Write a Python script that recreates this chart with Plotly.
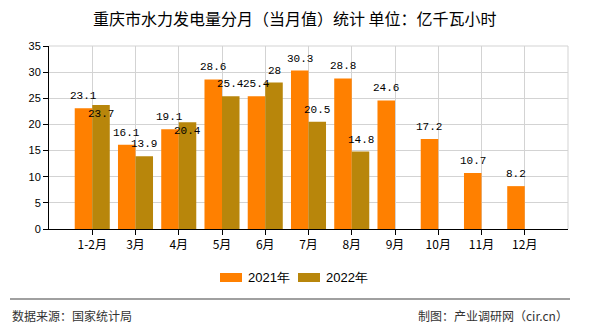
import plotly.graph_objects as go

categories = ["1-2月", "3月", "4月", "5月", "6月", "7月", "8月", "9月", "10月", "11月", "12月"]
values_2021 = [23.1, 16.1, 19.1, 28.6, 25.4, 30.3, 28.8, 24.6, 17.2, 10.7, 8.2]
values_2022 = [23.7, 13.9, 20.4, 25.4, 28, 20.5, 14.8, None, None, None, None]
yticks = [0, 5, 10, 15, 20, 25, 30, 35]
series = [("2021年", values_2021, "#FF8000"), ("2022年", values_2022, "#B8860B")]

cjk = "Noto Sans CJK SC"
mono = "Liberation Mono"

# plot area in pixels
L, R, T, B = 49, 568, 46, 229
W, H = R - L, B - T
def px(x):
    return (x - L) / W
def py(y):
    return (B - y) / H

bargap = 0.19
unit = W / 12.0
barw = unit * (1 - bargap) / 2

def fmt(v):
    return "%g" % v

fig = go.Figure()
for name, vals, color in series:
    fig.add_trace(go.Bar(
        x=categories, y=vals, name=name,
        marker=dict(color=color, line=dict(width=0)),
        showlegend=False,
    ))

# data labels as annotations (2022 label drops inside its bar when it would collide with the 2021 label)
for i, (name, vals, color) in enumerate(series):
    shift = (i - 0.5) * barw
    for j, (c, v) in enumerate(zip(categories, vals)):
        if v is None:
            continue
        inside = i == 1 and 0 < v - values_2021[j] < 2
        fig.add_annotation(x=c, y=v, text=fmt(v), showarrow=False,
                           xanchor="center",
                           yanchor="top" if inside else "bottom",
                           xshift=shift, yshift=-1 if inside else 4,
                           font=dict(family=mono, size=11, color="#000000"))

fig.update_layout(
    width=590, height=330,
    margin=dict(l=L, r=590 - R, t=T, b=330 - B),
    paper_bgcolor="white", plot_bgcolor="white",
    barmode="group", bargap=bargap, bargroupgap=0,
    font=dict(family=cjk, size=11, color="#000000"),
    showlegend=False,
    xaxis=dict(
        type="category", range=[-1, 11],
        showgrid=True, gridcolor="#D3D3D3", gridwidth=1,
        showline=True, linecolor="#000000", linewidth=1,
        ticks="outside", ticklen=5, tickcolor="#000000",
        tickfont=dict(family=cjk, size=12, color="#000000"),
    ),
    yaxis=dict(
        range=[0, 35], tickvals=yticks,
        showgrid=True, gridcolor="#D3D3D3", gridwidth=1,
        showline=True, linecolor="#000000", linewidth=1,
        ticks="outside", ticklen=5, tickcolor="#000000",
        tickfont=dict(family="Liberation Sans", size=11, color="#000000"),
        zeroline=False,
    ),
)

# title
fig.add_annotation(text="重庆市水力发电量分月（当月值）统计 单位：亿千瓦小时",
                   xref="paper", yref="paper", x=px(295), y=py(18),
                   xanchor="center", yanchor="middle", showarrow=False,
                   font=dict(family=cjk, size=16, color="#000000"))

# right & top plot borders
fig.add_shape(type="line", xref="paper", yref="paper", x0=1, x1=1, y0=0, y1=1,
              line=dict(color="#D3D3D3", width=1))
fig.add_shape(type="line", xref="paper", yref="paper", x0=0, x1=1, y0=1, y1=1,
              line=dict(color="#D3D3D3", width=1))

# custom legend
legend_items = [(220, "2021年", "#FF8000"), (298, "2022年", "#B8860B")]
for x0, name, color in legend_items:
    fig.add_shape(type="rect", xref="paper", yref="paper",
                  x0=px(x0), x1=px(x0 + 22), y0=py(282), y1=py(273),
                  fillcolor=color, line=dict(width=0))
    fig.add_annotation(text=name, xref="paper", yref="paper", x=px(x0 + 26), y=py(277.5),
                       xanchor="left", yanchor="middle", showarrow=False,
                       font=dict(family="Liberation Sans", size=13, color="#000000"))

# footer separator line
fig.add_shape(type="line", xref="paper", yref="paper",
              x0=px(10), x1=px(570), y0=py(299), y1=py(299),
              line=dict(color="#808080", width=1.5))

fig.add_annotation(text="数据来源：国家统计局", xref="paper", yref="paper",
                   x=px(10), y=py(315), xanchor="left", yanchor="middle",
                   showarrow=False, font=dict(family=cjk, size=12, color="#333333"))
fig.add_annotation(text="制图：产业调研网（cir.cn）", xref="paper", yref="paper",
                   x=px(570), y=py(315), xanchor="right", yanchor="middle",
                   showarrow=False, font=dict(family=cjk, size=12, color="#333333"))

fig.write_html("out.html")
